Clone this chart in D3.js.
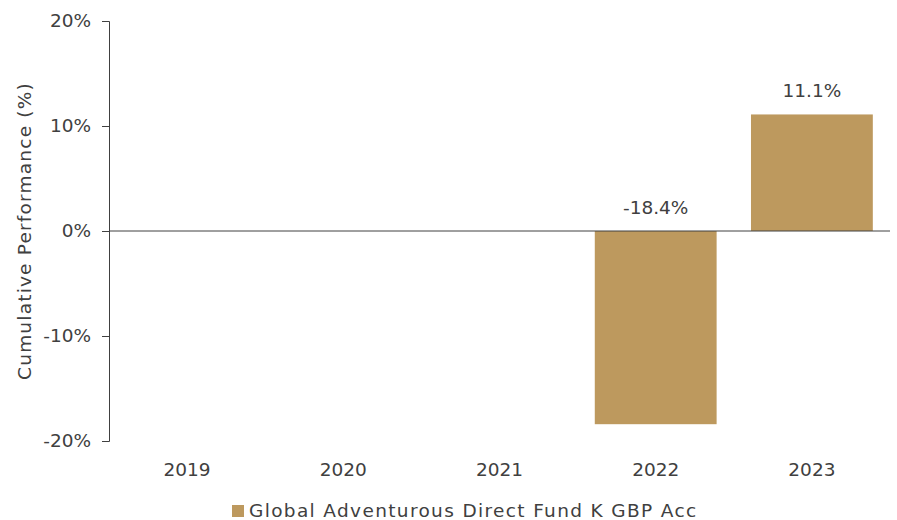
<!DOCTYPE html>
<html>
<head>
<meta charset="utf-8">
<script src="https://cdn.jsdelivr.net/npm/d3@7"></script>
<style>
  body { margin: 0; background: #fff; }
  text { font-family: "DejaVu Sans", sans-serif; fill: #404040; }
</style>
</head>
<body>
<script>
// chart data
var years = ['2019', '2020', '2021', '2022', '2023'];
var perf = [null, null, null, -18.4, 11.1];
var yTicks = [-20, -10, 0, 10, 20];
var seriesName = 'Global Adventurous Direct Fund K GBP Acc';

var svg_width = 897, svg_height = 520;
var barColor = '#bd995e', axisColor = '#404040';
var fontSize = 18.5;

var x = d3.scaleBand().domain(years).range([109, 890]).paddingInner(0.22).paddingOuter(0.11);
var y = d3.scaleLinear().domain([-20, 20]).range([441, 21]);

var svg = d3.select('body').append('svg').attr('width', svg_width).attr('height', svg_height);

var data = years.map((yr, i) => ({year: yr, value: perf[i]}));

// bars
svg.selectAll('rect.bar').data(data.filter(d => d.value != null)).enter().append('rect')
    .attr('class', 'bar')
    .attr('x', d => x(d.year))
    .attr('width', x.bandwidth())
    .attr('y', d => y(Math.max(0, d.value)))
    .attr('height', d => Math.abs(y(d.value) - y(0)))
    .attr('fill', barColor);

// zero line
svg.append('line')
    .attr('x1', 109).attr('x2', 890)
    .attr('y1', y(0)).attr('y2', y(0))
    .attr('stroke', axisColor).attr('stroke-width', 1);

// y axis
var yAxis = svg.append('g').attr('transform', 'translate(109,0)')
    .call(d3.axisLeft(y).tickValues(yTicks).tickSize(7).tickPadding(11).tickFormat(d => d + '%'));
yAxis.select('.domain').attr('stroke', axisColor);
yAxis.selectAll('.tick line').attr('stroke', axisColor);
yAxis.selectAll('text').attr('font-size', fontSize).attr('fill', axisColor)
    .style('font-family', '"DejaVu Sans", sans-serif');

// x labels
svg.selectAll('text.xlab').data(years).enter().append('text')
    .attr('class', 'xlab')
    .attr('x', d => x(d) + x.bandwidth() / 2)
    .attr('y', 476)
    .attr('text-anchor', 'middle')
    .attr('font-size', fontSize)
    .text(d => d);

// value labels
svg.selectAll('text.vlab').data(data.filter(d => d.value != null)).enter().append('text')
    .attr('class', 'vlab')
    .attr('x', d => x(d.year) + x.bandwidth() / 2)
    .attr('y', d => y(Math.max(0, d.value)) - 17)
    .attr('text-anchor', 'middle')
    .attr('font-size', fontSize)
    .text(d => d.value.toFixed(1) + '%');

// axis title
svg.append('text')
    .attr('transform', 'translate(31,' + y(0) + ') rotate(-90)')
    .attr('text-anchor', 'middle')
    .attr('font-size', fontSize)
    .attr('letter-spacing', 1.2)
    .text('Cumulative Performance (%)');

// legend
svg.append('rect').attr('x', 232).attr('y', 505).attr('width', 12).attr('height', 12).attr('fill', barColor);
svg.append('text').attr('x', 249).attr('y', 517).attr('font-size', fontSize)
    .attr('letter-spacing', 1.35)
    .text(seriesName);
</script>
</body>
</html>
